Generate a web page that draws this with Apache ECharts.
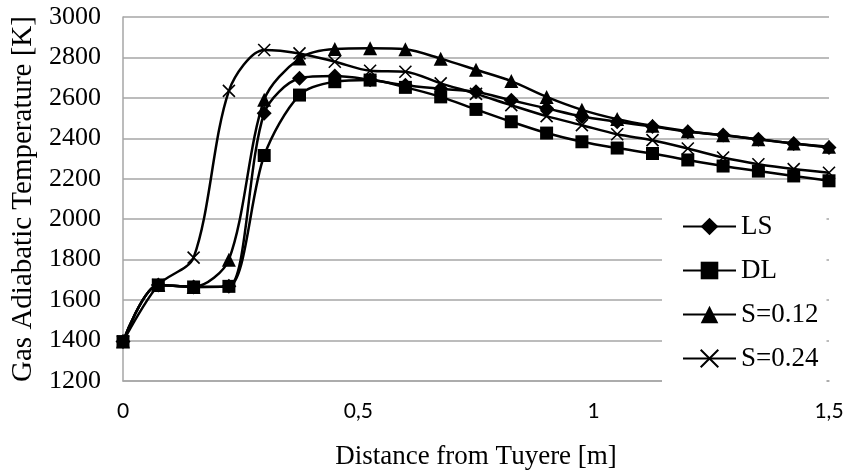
<!DOCTYPE html>
<html>
<head>
<meta charset="utf-8">
<script src="https://cdn.jsdelivr.net/npm/echarts@6/dist/echarts.min.js"></script>
<style>html,body{margin:0;padding:0;background:#fff}#c{width:851px;height:476px}</style>
</head>
<body>
<div id="c"></div>
<script>
var distance = [0, 0.075, 0.15, 0.225, 0.3, 0.375, 0.45, 0.525, 0.6, 0.675, 0.75, 0.825, 0.9, 0.975, 1.05, 1.125, 1.2, 1.275, 1.35, 1.425, 1.5];
var LS   = [1395, 1675, 1665, 1668, 2524, 2697, 2708, 2690, 2662, 2645, 2630, 2588, 2548, 2508, 2482, 2458, 2432, 2416, 2395, 2375, 2355];
var DL   = [1395, 1675, 1665, 1668, 2315, 2614, 2680, 2688, 2652, 2605, 2543, 2482, 2426, 2383, 2352, 2325, 2293, 2263, 2238, 2214, 2190];
var S012 = [1395, 1675, 1665, 1800, 2591, 2795, 2842, 2845, 2840, 2794, 2739, 2683, 2605, 2541, 2495, 2462, 2435, 2415, 2395, 2375, 2358];
var S024 = [1395, 1675, 1810, 2635, 2837, 2820, 2779, 2734, 2729, 2672, 2620, 2564, 2510, 2465, 2420, 2391, 2350, 2305, 2272, 2248, 2230];
var seriesNames = ['LS', 'DL', 'S=0.12', 'S=0.24'];
var xTicks = [0, 0.5, 1, 1.5];

function pairs(ys) { return distance.map(function (x, i) { return [x, ys[i]]; }); }

var chart = echarts.init(document.getElementById('c'));
var serif = 'Liberation Serif';
function mk(name, ys, symbol, size, extra) {
  var s = {
    name: name, type: 'line', data: pairs(ys), smooth: 0.3,
    symbol: symbol, symbolSize: size,
    lineStyle: { color: '#000', width: 2.5 },
    itemStyle: { color: '#000' },
    emphasis: { disabled: true }
  };
  if (extra) s.itemStyle = extra;
  return s;
}
chart.setOption({
  animation: false,
  grid: { left: 123, right: 22, top: 17, bottom: 95 },
  legend: {
    orient: 'vertical', left: 662, top: 199,
    padding: [14, 8, 12, 20],
    backgroundColor: '#fff',
    itemWidth: 53, itemHeight: 22, itemGap: 17,
    textStyle: { fontFamily: serif, fontSize: 27, color: '#000' },
    data: seriesNames
  },
  xAxis: {
    type: 'value', min: 0, max: 1.5, interval: 0.5,
    name: 'Distance from Tuyere [m]', nameLocation: 'middle', nameGap: 62,
    nameTextStyle: { fontFamily: serif, fontSize: 27, color: '#000' },
    axisLine: { show: true, lineStyle: { color: '#a6a6a6', width: 1.5 } },
    axisTick: { show: false },
    splitLine: { show: false },
    axisLabel: {
      margin: 20, fontFamily: 'Lato', fontSize: 21, color: '#000',
      formatter: function (v) { return xTicks.indexOf(v) >= 0 ? String(v).replace('.', ',') : ''; }
    }
  },
  yAxis: {
    type: 'value', min: 1200, max: 3000, interval: 200,
    name: 'Gas Adiabatic Temperature [K]', nameLocation: 'middle', nameGap: 78,
    nameTextStyle: { fontFamily: serif, fontSize: 29, color: '#000' },
    axisLine: { show: true, lineStyle: { color: '#a6a6a6', width: 1.5 } },
    axisTick: { show: false },
    splitLine: { show: true, lineStyle: { color: '#a6a6a6', width: 1.5 } },
    axisLabel: { margin: 22, fontFamily: serif, fontSize: 26, color: '#000',
      formatter: function (v) { return String(v); } }
  },
  series: [
    mk('LS', LS, 'diamond', 15),
    mk('DL', DL, 'rect', 13),
    mk('S=0.12', S012, 'triangle', 14),
    mk('S=0.24', S024, 'path://M0,0L10,10M10,0L0,10', 12,
       { color: 'rgba(0,0,0,0)', borderColor: '#000', borderWidth: 1.6 })
  ]
});
</script>
</body>
</html>
